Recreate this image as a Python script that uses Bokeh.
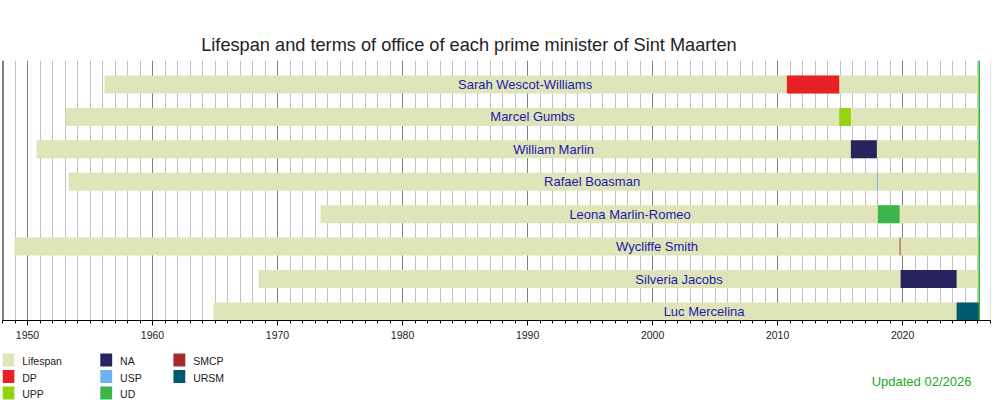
from bokeh.plotting import figure
from bokeh.layouts import column
from bokeh.models import ColumnDataSource, Range1d, SingleIntervalTicker, Span
from bokeh.core.properties import value
from bokeh.embed import file_html
from bokeh.resources import INLINE

# ---------------- data ----------------
names = ["Sarah Wescot-Williams", "Marcel Gumbs", "William Marlin", "Rafael Boasman",
         "Leona Marlin-Romeo", "Wycliffe Smith", "Silveria Jacobs", "Luc Mercelina"]
born = [1956.16, 1953.04, 1950.72, 1953.28, 1973.44, 1948.96, 1968.48, 1964.88]
label_year = [1989.8, 1990.4, 1992.08, 1995.16, 1998.2, 2000.36, 2002.12, 2004.12]
rows = [7, 6, 5, 4, 3, 2, 1, 0]
updated = 2026.13
updated_text = "Updated 02/2026"

term_row = [7, 6, 5, 4, 3, 2, 1, 0]
term_start = [2010.74, 2014.93, 2015.86, 2017.94, 2018.02, 2019.76, 2019.84, 2024.32]
term_end = [2014.93, 2015.86, 2017.94, 2018.02, 2019.76, 2019.83, 2024.32, 2026.13]
term_party = ["DP", "UPP", "NA", "USP", "UD", "SMCP", "NA", "URSM"]

parties = ["DP", "UPP", "NA", "USP", "UD", "SMCP", "URSM"]
party_colors = ["#e82127", "#96d30f", "#27235f", "#6cb4f0", "#3cb54a", "#a52a2a", "#005a6e"]
life_label = "Lifespan"
life_color = "#e0e4b9"

x_start, x_end = 1948.0, 2027.03
FONT = "Liberation Sans"

# ---------------- main chart ----------------
p = figure(width=1000, height=345, output_backend="svg", toolbar_location=None,
           x_range=Range1d(x_start, x_end), y_range=Range1d(-0.28, 7.74),
           min_border_left=2, min_border_right=10, min_border_top=60, min_border_bottom=25)
p.outline_line_color = None

p.title.text = "Lifespan and terms of office of each prime minister of Sint Maarten"
p.title.align = "left"
p.title.offset = 198.7
p.title.text_font = FONT
p.title.text_font_size = "18.2px"
p.title.text_font_style = "normal"
p.title.text_color = "#222222"
p.title.standoff = 12

p.yaxis.visible = False
p.ygrid.visible = False

ticker = SingleIntervalTicker(interval=10, num_minor_ticks=10)
p.xaxis.ticker = ticker
p.xgrid.ticker = ticker
p.xgrid.grid_line_color = "#808080"
p.xgrid.minor_grid_line_color = "#c0c0c0"
p.xaxis.axis_line_color = "black"
p.xaxis.axis_line_width = 1.2
p.xaxis.major_tick_line_color = "black"
p.xaxis.minor_tick_line_color = "black"
p.xaxis.major_tick_in = 0
p.xaxis.major_tick_out = 5
p.xaxis.minor_tick_in = 0
p.xaxis.minor_tick_out = 3
p.xaxis.major_label_text_font = FONT
p.xaxis.major_label_text_font_size = "10.5px"
p.xaxis.major_label_text_color = "#222222"
p.xaxis.major_label_standoff = 5

life_src = ColumnDataSource(dict(y=rows, left=born, right=[updated] * len(rows),
                                 name=names, lx=label_year))
p.hbar(y="y", left="left", right="right", height=0.555, source=life_src,
       fill_color=life_color, line_color=None)

for party, col in zip(parties, party_colors):
    idx = [i for i, tp in enumerate(term_party) if tp == party]
    src = ColumnDataSource(dict(y=[term_row[i] for i in idx],
                                left=[term_start[i] for i in idx],
                                right=[term_end[i] for i in idx]))
    p.hbar(y="y", left="left", right="right", height=0.555, source=src,
           fill_color=col, line_color=None)

p.text(x="lx", y="y", text="name", source=life_src, text_align="center",
       text_baseline="middle", text_font=value(FONT), text_font_size="13px",
       text_color="#1a1aaa")

p.add_layout(Span(location=updated, dimension="height", line_color="#2db82d", line_width=1.5))
p.add_layout(Span(location=x_start, dimension="height", line_color="black", line_width=2))

# ---------------- legend strip (page-pixel coordinates) ----------------
top_px, bottom_px = 345, 400
lg = figure(width=1000, height=bottom_px - top_px, output_backend="svg", toolbar_location=None,
            x_range=Range1d(0, 1000), y_range=Range1d(bottom_px, top_px),
            min_border_left=0, min_border_right=0, min_border_top=0, min_border_bottom=0)
lg.axis.visible = False
lg.grid.visible = False
lg.outline_line_color = None

leg_labels = [life_label] + parties
leg_colors = [life_color] + party_colors
col_x = [0, 99, 173]
row_y = [359.5, 376, 392.5]
per_col = 3
sw_x, sw_y, tx, ty = [], [], [], []
for k in range(len(leg_labels)):
    c, r = divmod(k, per_col)
    sw_x.append(col_x[c] + 6)
    sw_y.append(row_y[r])
    tx.append(col_x[c] + 20)
    ty.append(row_y[r] + 1)
lsrc = ColumnDataSource(dict(x=sw_x, y=sw_y, tx=tx, ty=ty, label=leg_labels, color=leg_colors))
lg.rect(x="x", y="y", width=12, height=13, source=lsrc, fill_color="color", line_color=None)
lg.text(x="tx", y="ty", text="label", source=lsrc, text_align="left", text_baseline="middle",
        text_font=value(FONT), text_font_size="10.5px", text_color="#222222")
lg.text(x=[980.7], y=[380.7], text=[updated_text], text_align="right", text_baseline="middle",
        text_font=value(FONT), text_font_size="13px", text_color="#22aa22")

layout = column(p, lg, spacing=0)
open("out.html", "w").write(file_html(layout, INLINE))
